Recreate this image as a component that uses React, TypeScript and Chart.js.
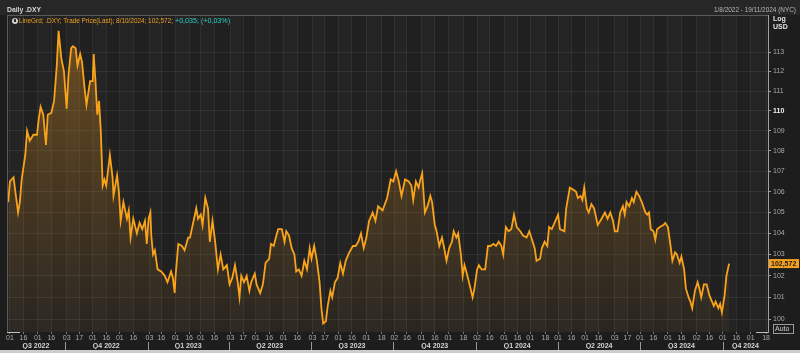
import React, { useEffect, useRef } from 'react';
import { Chart, registerables } from 'chart.js';

Chart.register(...registerables);

// ---------- data ----------
const START_DATE = '2022-08-01';

// calendar days after START_DATE
const dayOffsets = [
  -2, 0, 4, 6, 9, 11, 13, 17, 19, 22, 26, 30, 32, 34, 37, 40, 42, 46, 49, 52, 54, 57, 60, 63, 65, 68, 70, 73, 75, 78,
  80, 83, 85, 89, 92, 93, 95, 97, 99, 101, 103, 105, 107, 111, 114, 115, 119, 121, 123, 126, 130, 132, 134, 137, 141,
  144, 147, 150, 152, 154, 156, 157, 159, 161, 164, 168, 172, 175, 179, 181, 183, 184, 187, 191, 194, 198,
  200, 204, 207, 209, 212, 214, 217, 220, 222, 225, 228, 231, 234, 237, 241, 244, 247, 250, 253, 255, 257, 260, 263,
  266, 268, 272, 274, 278, 281, 284, 288, 290, 293, 296, 298, 302, 305, 307, 310, 313, 316, 318, 321, 324, 327, 330,
  333, 335, 338, 341, 344, 346, 348, 351, 353, 356, 358, 361, 364, 367, 370, 373, 377, 381, 384, 387, 390, 393, 396,
  399, 403,
  406, 409, 414, 419, 423, 426, 429, 432, 435, 439, 443, 446, 448, 451, 454, 456, 458, 461, 464, 467, 469, 472, 474,
  477, 480, 482, 485, 488, 491, 493, 496, 498, 501, 503, 505, 507, 510, 514, 516, 519, 521, 524, 528, 531, 534, 537,
  540, 543, 546, 548, 551, 554, 557, 560, 563, 567, 570, 574, 577, 580, 583, 585, 589, 591, 594, 597, 599, 602, 606,
  609,
  611, 616, 618, 622, 626, 629, 631, 634, 636, 638, 641, 643, 646, 649, 653, 656, 661, 664, 667, 670, 672, 675, 678,
  681, 683, 685, 688, 691, 693, 696, 699, 702, 706, 708, 710, 712, 715, 717, 719, 722, 726, 728, 731, 734, 736, 739,
  741, 744, 746, 749, 751, 754, 756, 758, 761, 764, 766, 768, 771, 774, 777, 780, 782, 784, 787, 789, 791, 794, 796,
  799,
];

const dxyValues = [
  105.5, 106.5, 106.7, 106.0, 105.0, 105.5, 106.6, 107.8, 109.0, 108.5, 108.8, 108.8, 109.6, 110.2, 109.8, 108.3, 109.8,
  109.9, 110.5, 112.3, 114.1, 112.7, 112.0, 110.1, 111.8, 113.2, 113.3, 113.2, 112.3, 112.9,
  112.5, 111.1, 110.3, 111.5, 111.5, 112.9, 111.5, 109.8, 110.5, 108.9, 106.3, 106.6, 106.3, 107.8, 106.7, 105.8, 106.8,
  106.0, 104.6, 105.5, 104.7, 105.1, 103.8, 104.7, 104.0,
  104.5, 104.2, 104.6, 103.5, 104.7, 105.0, 103.9, 103.0, 103.2, 102.3, 102.2, 102.0, 101.7, 102.2, 101.9, 101.2, 102.0,
  103.5, 103.4, 103.2, 103.8,
  103.8, 104.6, 105.2, 104.7, 104.9, 104.4, 105.7, 105.2, 103.6, 104.6, 103.6, 102.3, 103.0, 102.3, 102.5, 101.6, 101.9,
  102.5, 101.7, 101.0, 102.0, 101.7, 102.0,
  101.3, 101.7, 102.1, 101.6, 101.2, 101.6, 102.6, 102.8, 103.5, 103.4, 103.9, 104.2, 104.2, 103.6, 104.1, 103.9, 103.3,
  103.0, 102.2, 102.3, 102.0, 102.7, 102.3,
  103.3, 102.8, 103.4, 102.7, 101.7, 100.5, 99.8, 99.9, 100.6, 101.3, 101.0, 101.7, 101.9, 102.6, 102.1, 102.7, 103.1,
  103.4, 103.4, 103.6, 104.0, 103.3, 103.8,
  104.6, 105.0,
  104.6, 105.3, 105.1, 105.7, 106.6, 106.5, 107.0, 106.5, 105.8, 106.6, 106.5, 106.3, 105.6, 106.5, 106.2, 106.6, 106.9,
  105.0, 105.3, 105.8, 105.5, 104.4, 104.1,
  103.4, 103.8, 103.4, 102.7, 103.3, 103.6, 104.1, 103.8, 104.0, 103.0, 102.0, 102.5, 102.2, 101.7, 101.0, 101.4, 102.3,
  102.5, 102.3, 102.3, 103.4, 103.4, 103.5,
  103.4, 103.6, 103.4, 103.0, 104.3, 104.1, 104.2, 104.9, 104.3, 104.1, 103.9, 103.8, 104.1, 103.7, 103.3, 102.7, 102.8,
  103.3, 103.6, 103.4, 104.3, 104.2, 104.6,
  104.9,
  104.2, 104.1, 105.2, 106.2, 106.1, 106.0, 105.7, 105.8, 105.6, 106.2, 105.2, 105.0, 105.4, 105.2, 104.4, 104.6, 105.0,
  104.7, 105.0, 104.6, 104.1, 104.1, 105.0,
  105.3, 104.9, 105.5, 105.3, 105.7, 105.5, 106.0, 105.8, 105.5, 105.0, 104.9, 105.0, 104.2, 104.1, 103.7, 104.2, 104.3,
  104.4, 104.5, 104.3, 103.4, 102.7, 103.1,
  103.0, 102.6, 102.9, 102.3, 101.4, 101.0, 100.8, 100.5, 101.3, 101.7, 101.4, 101.0, 101.6, 101.6, 101.1, 100.8, 100.6,
  100.8, 100.5, 100.7, 100.3, 101.1, 102.0,
  102.572,
];

const tickDates = [
  '2022-08-01', '2022-08-16', '2022-09-01', '2022-09-16', '2022-10-03', '2022-10-17', '2022-11-01', '2022-11-16',
  '2022-12-01', '2022-12-16', '2023-01-03', '2023-01-16', '2023-02-01', '2023-02-16', '2023-03-01', '2023-03-16',
  '2023-04-03', '2023-04-17', '2023-05-01', '2023-05-16', '2023-06-01', '2023-06-16', '2023-07-03', '2023-07-17',
  '2023-08-01', '2023-08-16', '2023-09-01', '2023-09-18', '2023-10-02', '2023-10-16', '2023-11-01', '2023-11-16',
  '2023-12-01', '2023-12-18', '2024-01-02', '2024-01-16', '2024-02-01', '2024-02-16', '2024-03-01', '2024-03-18',
  '2024-04-01', '2024-04-16', '2024-05-01', '2024-05-16', '2024-06-03', '2024-06-17', '2024-07-01', '2024-07-16',
  '2024-08-01', '2024-08-16', '2024-09-02', '2024-09-16', '2024-10-01', '2024-10-16', '2024-11-01', '2024-11-18',
];

const quarterStarts = [
  '2022-07-01', '2022-10-01', '2023-01-01', '2023-04-01', '2023-07-01', '2023-10-01', '2024-01-01', '2024-04-01',
  '2024-07-01', '2024-10-01', '2025-01-01',
];
const quarterLabels = [
  'Q3 2022', 'Q4 2022', 'Q1 2023', 'Q2 2023', 'Q3 2023', 'Q4 2023', 'Q1 2024', 'Q2 2024', 'Q3 2024', 'Q4 2024',
];

const yTicks = [100, 101, 102, 103, 104, 105, 106, 107, 108, 109, 110, 111, 112, 113];
const boldTick = 110;

const X_MIN = -3.3;
const X_MAX = 842.2;
const Y_MIN = 99.41;
const Y_MAX = 114.93;

const lastPriceLabel = '102,572';
const titleText = 'Daily .DXY';
const legendMain = 'LineGrd; .DXY; Trade Price(Last); 8/10/2024; 102,572;';
const legendChange = '+0,035; (+0,03%)';
const rangeText = '1/8/2022 - 19/11/2024 (NYC)';

// ---------- helpers ----------
const FONT = "'Liberation Sans', Arial, sans-serif";
function dayOf(s: string): number {
  return Math.round((Date.parse(s) - Date.parse(START_DATE)) / 86400000);
}
const quarterMids = quarterLabels.map((_, i) => {
  const a = Math.max(dayOf(quarterStarts[i]), X_MIN);
  const b = Math.min(dayOf(quarterStarts[i + 1]), X_MAX);
  return (a + b) / 2;
});

const bgPlugin = {
  id: 'bgPlugin',
  beforeDraw(chart: any) {
    const { ctx, chartArea, width, height } = chart;
    ctx.save();
    ctx.fillStyle = '#1d1d1d';
    ctx.fillRect(0, 0, width, height);
    ctx.fillStyle = '#272727';
    ctx.fillRect(0, 0, width, 15);
    ctx.fillStyle = '#202020';
    ctx.fillRect(chartArea.left, chartArea.top, chartArea.right - chartArea.left, chartArea.bottom - chartArea.top);
    // alternating vertical bands between x ticks
    const xs = chart.scales.x;
    const days = [X_MIN, ...tickDates.map(dayOf), X_MAX];
    for (let i = 0; i < days.length - 1; i++) {
      if (i % 2 === 1) {
        const a = xs.getPixelForValue(days[i]);
        const b = xs.getPixelForValue(days[i + 1]);
        ctx.fillStyle = 'rgba(255,255,255,0.018)';
        ctx.fillRect(a, chartArea.top, b - a, chartArea.bottom - chartArea.top);
      }
    }
    ctx.restore();
  },
};

const overlayPlugin = {
  id: 'overlayPlugin',
  afterDraw(chart: any) {
    const { ctx, chartArea, width, height } = chart;
    const xs = chart.scales.x;
    const ys = chart.scales.y;
    ctx.save();
    // header separator and frame
    ctx.strokeStyle = '#5a5a5a';
    ctx.lineWidth = 1;
    ctx.beginPath();
    ctx.moveTo(chartArea.left, 15.5);
    ctx.lineTo(chartArea.right, 15.5);
    ctx.moveTo(chartArea.left + 0.5, 15);
    ctx.lineTo(chartArea.left + 0.5, chartArea.bottom);
    ctx.stroke();
    // bottom corners
    ctx.strokeStyle = '#bdbdbd';
    ctx.beginPath();
    ctx.moveTo(chartArea.left, chartArea.bottom + 0.5);
    ctx.lineTo(chartArea.left + 13, chartArea.bottom + 0.5);
    ctx.moveTo(chartArea.right - 12, chartArea.bottom + 0.5);
    ctx.lineTo(chartArea.right, chartArea.bottom + 0.5);
    ctx.stroke();

    // title
    ctx.textBaseline = 'middle';
    ctx.textAlign = 'left';
    ctx.fillStyle = '#d8d8d8';
    ctx.font = `bold 8px ${FONT}`;
    ctx.fillText(titleText, 7, 9.5, 34);
    // range
    ctx.textAlign = 'right';
    ctx.fillStyle = '#b8b8b8';
    ctx.font = `7.5px ${FONT}`;
    ctx.fillText(rangeText, 796, 9.5, 82);
    // legend icon
    ctx.fillStyle = '#cfcfcf';
    ctx.beginPath();
    ctx.arc(15, 21, 3, 0, Math.PI * 2);
    ctx.fill();
    ctx.fillStyle = '#2a2a2a';
    ctx.fillRect(14, 19, 2, 3);
    // legend text
    ctx.textAlign = 'left';
    ctx.font = `7.5px ${FONT}`;
    ctx.fillStyle = '#f0a020';
    ctx.fillText(legendMain, 19, 21, 154);
    ctx.fillStyle = '#30d0c8';
    ctx.fillText(legendChange, 175, 21, 55);
    // Log / USD
    ctx.fillStyle = '#e0e0e0';
    ctx.font = `bold 7px ${FONT}`;
    ctx.fillText('Log', 773, 19.5);
    ctx.fillText('USD', 773, 27.5);

    // quarter dividers
    ctx.strokeStyle = '#9a9a9a';
    ctx.beginPath();
    quarterStarts.forEach((q) => {
      const d = dayOf(q);
      if (d > X_MIN && d < X_MAX) {
        const px = Math.round(xs.getPixelForValue(d)) + 0.5;
        ctx.moveTo(px, 342);
        ctx.lineTo(px, 350);
      }
    });
    ctx.stroke();

    // last price tag
    const lastVal = dxyValues[dxyValues.length - 1];
    const py = ys.getPixelForValue(lastVal);
    ctx.fillStyle = '#f5a01e';
    ctx.fillRect(chartArea.right + 1, py - 4.5, 30, 9);
    ctx.fillStyle = '#1a1a1a';
    ctx.font = `bold 7px ${FONT}`;
    ctx.textAlign = 'left';
    ctx.fillText(lastPriceLabel, chartArea.right + 3, py + 0.5, 27);

    // Auto box
    ctx.strokeStyle = '#9a9a9a';
    ctx.strokeRect(773.5, 324.5, 20, 9);
    ctx.fillStyle = '#d0d0d0';
    ctx.font = `7px ${FONT}`;
    ctx.fillText('Auto', 775, 329.5, 17);

    // bottom strip
    ctx.fillStyle = '#cdcdcd';
    ctx.fillRect(0, 350, width, height - 350);
    ctx.restore();
  },
};

export default function App() {
  const canvasRef = useRef<HTMLCanvasElement | null>(null);

  useEffect(() => {
    document.body.style.margin = '0';
    const canvas = canvasRef.current;
    if (!canvas) return;
    const points = dayOffsets.map((d, i) => ({ x: d, y: dxyValues[i] }));

    const chart = new Chart(canvas, {
      type: 'line',
      data: {
        datasets: [
          {
            data: points,
            borderColor: '#f9a31b',
            borderWidth: 1.8,
            pointRadius: 0,
            tension: 0,
            fill: 'start',
            backgroundColor: (c: any) => {
              const { chart: ch } = c;
              const area = ch.chartArea;
              if (!area) return 'rgba(250,160,30,0.15)';
              const g = ch.ctx.createLinearGradient(0, area.top, 0, area.bottom);
              g.addColorStop(0, 'rgba(250,160,30,0.34)');
              g.addColorStop(1, 'rgba(250,160,30,0.04)');
              return g;
            },
          },
        ],
      },
      options: {
        animation: false,
        responsive: false,
        devicePixelRatio: 1,
        layout: { padding: { left: 7, top: 15, right: 0, bottom: 4 } },
        plugins: { legend: { display: false }, tooltip: { enabled: false } },
        scales: {
          x: {
            type: 'linear',
            position: 'bottom',
            min: X_MIN,
            max: X_MAX,
            weight: 0,
            afterFit: (s: any) => {
              s.height = 10;
            },
            afterBuildTicks: (s: any) => {
              s.ticks = tickDates.map((d) => ({ value: dayOf(d) }));
            },
            ticks: {
              autoSkip: false,
              maxRotation: 0,
              minRotation: 0,
              padding: 0,
              color: '#aaaaaa',
              font: { size: 7, family: FONT },
              callback: (_v: any, i: number) => tickDates[i].slice(8, 10),
            },
            grid: { color: 'rgba(255,255,255,0.065)', drawTicks: true, tickLength: 2, tickColor: '#777' },
            border: { display: false },
          },
          x2: {
            type: 'linear',
            position: 'bottom',
            min: X_MIN,
            max: X_MAX,
            weight: 1,
            afterFit: (s: any) => {
              s.height = 7;
            },
            afterBuildTicks: (s: any) => {
              s.ticks = quarterMids.map((m) => ({ value: m }));
            },
            ticks: {
              autoSkip: false,
              maxRotation: 0,
              minRotation: 0,
              padding: 0,
              color: '#d4d4d4',
              font: { size: 7, family: FONT, weight: 'bold' },
              callback: (_v: any, i: number) => quarterLabels[i],
            },
            grid: { display: false, drawTicks: false },
            border: { display: false },
          },
          y: {
            type: 'logarithmic',
            position: 'right',
            min: Y_MIN,
            max: Y_MAX,
            afterFit: (s: any) => {
              s.width = 32;
            },
            afterBuildTicks: (s: any) => {
              s.ticks = yTicks.map((v) => ({ value: v }));
            },
            ticks: {
              autoSkip: false,
              padding: 2,
              color: (c: any) => (c.tick && c.tick.value === boldTick ? '#f2f2f2' : '#a8a8a8'),
              font: (c: any) => ({
                size: 7,
                family: FONT,
                weight: c.tick && c.tick.value === boldTick ? 'bold' : 'normal',
              }),
              callback: (v: any) => String(v),
            },
            grid: { color: 'rgba(255,255,255,0.065)', drawTicks: true, tickLength: 3, tickColor: '#a0a0a0' },
            border: { display: true, color: '#a0a0a0', width: 1 },
          },
        },
      },
      plugins: [bgPlugin, overlayPlugin],
    } as any);

    return () => {
      chart.destroy();
    };
  }, []);

  return (
    <div style={{ width: 800, height: 353, background: '#1d1d1d' }}>
      <canvas ref={canvasRef} width={800} height={353} style={{ display: 'block' }} />
    </div>
  );
}
